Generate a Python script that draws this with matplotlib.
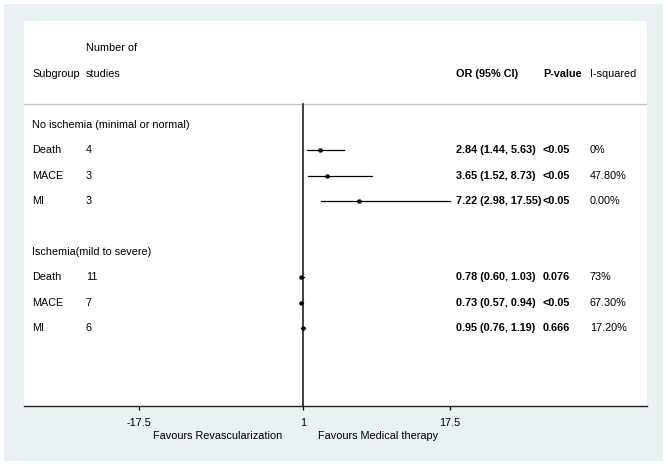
import matplotlib.pyplot as plt
import matplotlib.transforms as mtransforms
from matplotlib.patches import Rectangle

plt.rcParams['font.family'] = ['Liberation Sans', 'DejaVu Sans']

# data
groups    = ["No ischemia (minimal or normal)", "Ischemia(mild to severe)"]
outcomes  = ["Death", "MACE", "MI", "Death", "MACE", "MI"]
n_studies = [4, 3, 3, 11, 7, 6]
or_vals   = [2.84, 3.65, 7.22, 0.78, 0.73, 0.95]
ci_low    = [1.44, 1.52, 2.98, 0.60, 0.57, 0.76]
ci_high   = [5.63, 8.73, 17.55, 1.03, 0.94, 1.19]
p_vals    = ["<0.05", "<0.05", "<0.05", "0.076", "<0.05", "0.666"]
i_sq      = ["0%", "47.80%", "0.00%", "73%", "67.30%", "17.20%"]
xticks    = [-17.5, 1, 17.5]

# row positions (top to bottom)
group_rows = [0, 5]
rows = [1, 2, 3, 6, 7, 8]

fs = 7.8

fig = plt.figure(figsize=(6.68, 4.65), dpi=100, facecolor='white')
fig.patches.append(Rectangle((0.006, 0.0086), 0.9865, 0.983, transform=fig.transFigure,
                             facecolor='#eaf1f3', edgecolor='none', zorder=-10))
ax = fig.add_axes([0.0359, 0.1269, 0.9326, 0.828])
ax.set_facecolor('white')

ax.set_xlim(-30.44, 39.67)
ax.set_ylim(11.06, -4.09)

# separator and no-effect line
ax.axhline(-0.83, color='#c0c0c0', lw=0.9)
ax.plot([1, 1], [-0.83, 11.06], color='#333333', lw=1.3, clip_on=False)

# CI lines and points
for r, o, lo, hi in zip(rows, or_vals, ci_low, ci_high):
    ax.plot([lo, hi], [r, r], color='black', lw=0.9)
    ax.plot(o, r, 'o', color='black', ms=2.2)

# text columns
tr = mtransforms.blended_transform_factory(ax.transAxes, ax.transData)
c_sub, c_n, c_or, c_p, c_i = 0.013, 0.0995, 0.693, 0.833, 0.9085

ax.text(c_n, -3.02, "Number of", transform=tr, fontsize=fs, va='center')
ax.text(c_sub, -2.02, "Subgroup", transform=tr, fontsize=fs, va='center')
ax.text(c_n, -2.02, "studies", transform=tr, fontsize=fs, va='center')
ax.text(c_or, -2.02, "OR (95% CI)", transform=tr, fontsize=fs, va='center', fontweight='bold')
ax.text(c_p, -2.02, "P-value", transform=tr, fontsize=fs, va='center', fontweight='bold')
ax.text(c_i, -2.02, "I-squared", transform=tr, fontsize=fs, va='center')

for g, r in zip(groups, group_rows):
    ax.text(c_sub, r, g, transform=tr, fontsize=fs, va='center')

for k, r in enumerate(rows):
    ax.text(c_sub, r, outcomes[k], transform=tr, fontsize=fs, va='center')
    ax.text(c_n, r, str(n_studies[k]), transform=tr, fontsize=fs, va='center')
    lab = "%.2f (%.2f, %.2f)" % (or_vals[k], ci_low[k], ci_high[k])
    ax.text(c_or, r, lab, transform=tr, fontsize=fs, va='center', fontweight='bold')
    ax.text(c_p, r, p_vals[k], transform=tr, fontsize=fs, va='center', fontweight='bold')
    ax.text(c_i, r, i_sq[k], transform=tr, fontsize=fs, va='center')

# axis styling
for s in ['top', 'left', 'right']:
    ax.spines[s].set_visible(False)
ax.spines['bottom'].set_color('#222222')
ax.spines['bottom'].set_linewidth(1.0)
ax.set_yticks([])
ax.set_xticks(xticks)
ax.set_xticklabels(["-17.5", "1", "17.5"], fontsize=fs)
ax.tick_params(axis='x', direction='out', length=3, width=0.9, pad=6)

trb = mtransforms.blended_transform_factory(ax.transData, ax.transAxes)
ax.text(-1.36, -0.077, "Favours Revascularization", transform=trb, fontsize=fs,
        ha='right', va='center')
ax.text(2.69, -0.077, "Favours Medical therapy", transform=trb, fontsize=fs,
        ha='left', va='center')

plt.savefig("out.png", dpi=100, facecolor=fig.get_facecolor())
plt.close()
